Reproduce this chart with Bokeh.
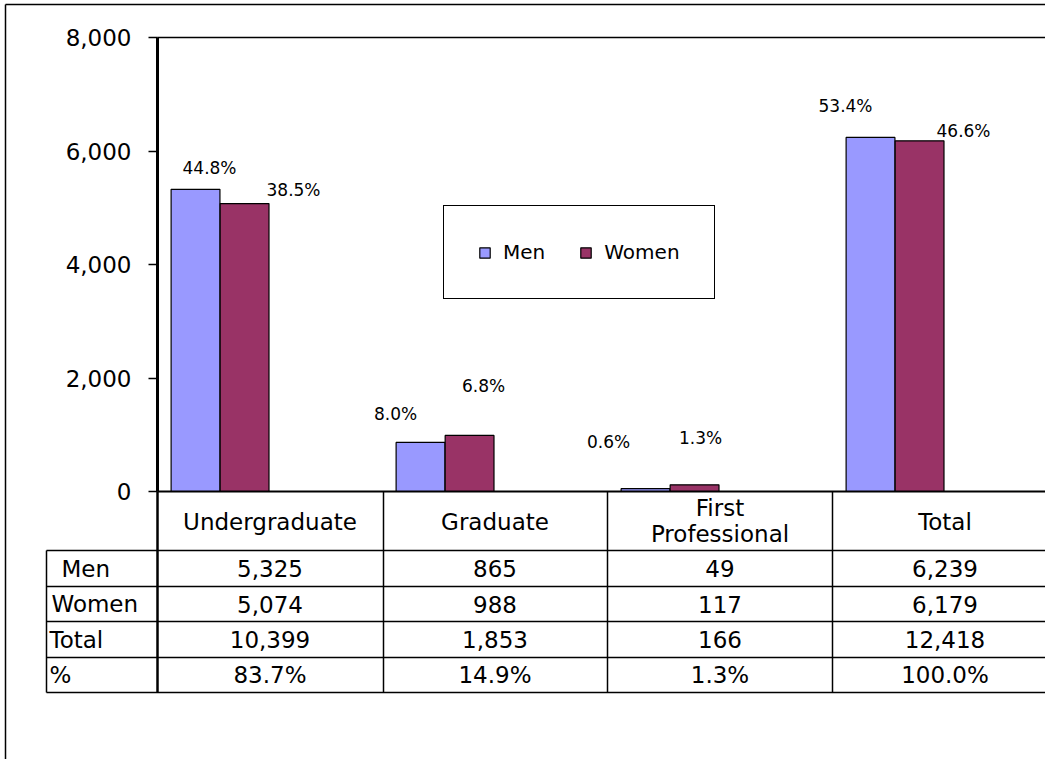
from bokeh.plotting import figure
from bokeh.models import (ColumnDataSource, Range1d, FixedTicker, NumeralTickFormatter,
                          Legend, LegendItem)
from bokeh.core.properties import value
from bokeh.embed import file_html
from bokeh.resources import INLINE

# ---------------- data ----------------
categories = ["Undergraduate", "Graduate", "First Professional", "Total"]
men = [5325, 865, 49, 6239]
women = [5074, 988, 117, 6179]
totals = [10399, 1853, 166, 12418]
share_pct = [83.7, 14.9, 1.3, 100.0]
men_pct = [44.8, 8.0, 0.6, 53.4]
women_pct = [38.5, 6.8, 1.3, 46.6]
row_labels = ["Men", "Women", "Total", "%"]
y_ticks = [0, 2000, 4000, 6000, 8000]

# ---------------- layout helpers (canvas pixels -> data units) ----------------
FONT = "DejaVu Sans"
W, H = 1045, 759
COLW = 225.0
X0, Y0, YTOP = 157, 491, 37  # plot-area left, zero line, 8000 line (pixels)


def dx(px):
    return (px - X0) / COLW


def dy(py):
    return (Y0 - py) * 8000 / float(Y0 - YTOP)


p = figure(width=W, height=H, x_range=Range1d(dx(0), dx(W)), y_range=Range1d(dy(H), dy(0)),
           output_backend="svg", toolbar_location=None, x_axis_location=None, title=None,
           min_border_left=0, min_border_top=0, min_border_bottom=0, min_border_right=0,
           background_fill_color="white", border_fill_color="white", outline_line_color=None)
p.grid.visible = False

n = len(categories)
centers = [i + 0.5 for i in range(n)]
src = ColumnDataSource(dict(
    xm=[c - 0.331 for c in centers],
    xw=[c - 0.113 for c in centers],
    xs=[c + 0.32 for c in centers],
    men=men, women=women, share=[s / 100 for s in share_pct],
))

share_r = p.vbar(x="xs", top="share", width=0.21, fill_color="#CCFFFF", line_color="#CCFFFF",
                 line_width=1, source=src)
men_r = p.vbar(x="xm", top="men", width=0.217, fill_color="#9999FF", line_color="black",
               line_width=1.2, source=src)
women_r = p.vbar(x="xw", top="women", width=0.217, fill_color="#993366", line_color="black",
                 line_width=1.2, source=src)

# value axis, drawn at the plot-area edge
ax = p.yaxis[0]
ax.fixed_location = 0
ax.bounds = (0, 8000)
ax.ticker = FixedTicker(ticks=y_ticks)
ax.formatter = NumeralTickFormatter(format="0,0")
ax.axis_line_width = 3
ax.axis_line_color = "black"
ax.major_tick_line_width = 1.5
ax.major_tick_out = 9
ax.major_tick_in = 0
ax.minor_tick_out = 0
ax.minor_tick_in = 0
ax.major_label_text_font = FONT
ax.major_label_text_font_size = "23px"
ax.major_label_text_color = "black"
ax.major_label_standoff = 17

# ---------------- lines: plot-area top, zero line, data table, outer border ----------------
XR = W + 20
row_tops = [550, 586, 621, 657, 692]
col_lines = [157, 383, 607, 832]
L = dict(x0=[], y0=[], x1=[], y1=[], w=[])


def seg(xa, ya, xb, yb, w):
    L["x0"].append(dx(xa)); L["y0"].append(dy(ya))
    L["x1"].append(dx(xb)); L["y1"].append(dy(yb)); L["w"].append(w)


seg(X0, YTOP, XR, YTOP, 1.5)
seg(X0, Y0, XR, Y0, 2)
for r in row_tops:
    seg(46, r, XR, r, 1.5)
seg(46, 550, 46, 692, 1.5)
for c in col_lines:
    seg(c, Y0, c, 692, 2.5 if c == X0 else 1.5)
seg(5, 4, 5, H + 20, 1.5)
seg(5, 4, XR, 4, 1.5)
p.segment(x0="x0", y0="y0", x1="x1", y1="y1", line_width="w", line_color="black",
          source=ColumnDataSource(L))

# percentage labels
men_lab_pos = [(209, 167), (395, 413), (608, 441), (845, 105)]
women_lab_pos = [(293, 189), (483, 385), (700, 437), (963, 130)]
lab_src = ColumnDataSource(dict(
    x=[dx(a) for a, b in men_lab_pos] + [dx(a) for a, b in women_lab_pos],
    y=[dy(b) for a, b in men_lab_pos] + [dy(b) for a, b in women_lab_pos],
    t=["%.1f%%" % v for v in men_pct] + ["%.1f%%" % v for v in women_pct],
))
p.text(x="x", y="y", text="t", source=lab_src, text_align="center", text_baseline="middle",
       text_font=value(FONT), text_font_size="17px", text_color="black")

# legend
legend = Legend(items=[LegendItem(label="Men", renderers=[men_r]),
                       LegendItem(label="Women", renderers=[women_r])],
                location=(443, H - 299), orientation="horizontal",
                border_line_color="black", border_line_width=1.3, border_line_alpha=1,
                background_fill_color="white", background_fill_alpha=1,
                padding=34, margin=0, spacing=34, label_standoff=12,
                glyph_width=13, glyph_height=13, label_height=20,
                label_text_font=FONT, label_text_font_size="20px", label_text_color="black")
p.add_layout(legend)

# ---------------- data table texts ----------------
T = dict(x=[], y=[], t=[])
for ci, cat in enumerate(categories):
    parts = cat.split(" ")
    if len(parts) == 1:
        T["x"].append(centers[ci]); T["y"].append(dy(521)); T["t"].append(cat)
    else:
        for k, part in enumerate(parts):
            T["x"].append(centers[ci]); T["y"].append(dy(507 + 26 * k)); T["t"].append(part)

row_mid = [568, 603.5, 639, 674.5]
rows_vals = [["{:,}".format(v) for v in men], ["{:,}".format(v) for v in women],
             ["{:,}".format(v) for v in totals], ["%.1f%%" % v for v in share_pct]]
for ri, vals in enumerate(rows_vals):
    for ci, t in enumerate(vals):
        T["x"].append(centers[ci]); T["y"].append(dy(row_mid[ri])); T["t"].append(t)
p.text(x="x", y="y", text="t", source=ColumnDataSource(T), text_align="center",
       text_baseline="middle", text_font=value(FONT), text_font_size="23px", text_color="black")

indent = [61, 51, 49, 49]
rl_src = ColumnDataSource(dict(x=[dx(v) for v in indent], y=[dy(m) for m in row_mid], t=row_labels))
p.text(x="x", y="y", text="t", source=rl_src, text_align="left", text_baseline="middle",
       text_font=value(FONT), text_font_size="23px", text_color="black")

open("out.html", "w").write(file_html(p, INLINE))
